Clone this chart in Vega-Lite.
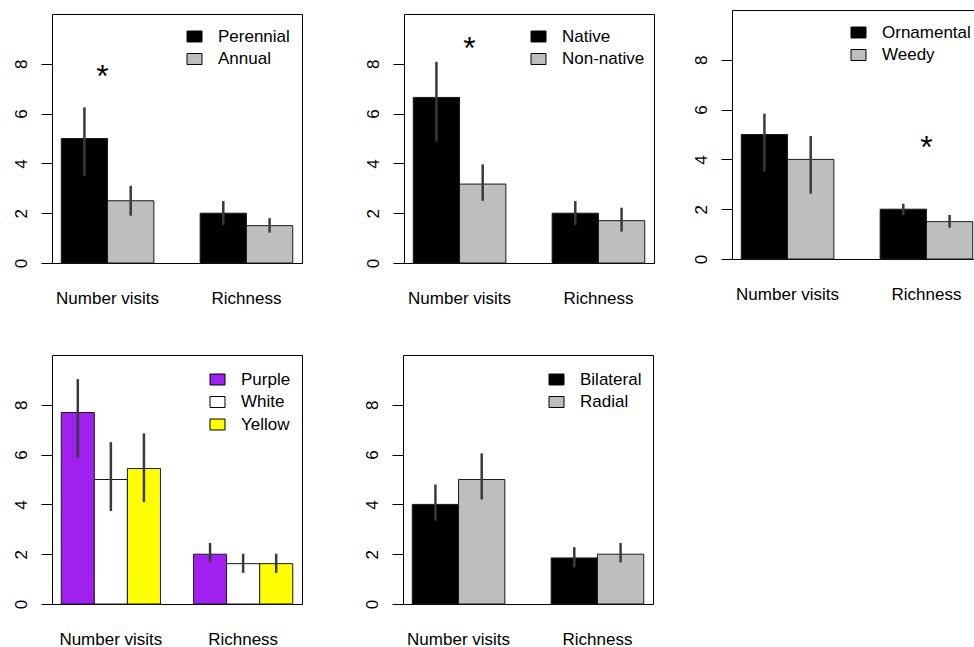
{
  "$schema": "https://vega.github.io/schema/vega-lite/v6.json",
  "background": "white",
  "padding": {"left": 0, "top": 9, "right": 0, "bottom": 0},
  "config": {
    "font": "Liberation Sans",
    "view": {"stroke": "#000", "strokeWidth": 1},
    "axis": {"labelFont": "Liberation Sans", "labelFontSize": 17, "labelColor": "#000", "grid": false, "domain": false},
    "legend": {"orient": "none", "padding": 0, "symbolType": "M-1,-0.73H1V0.73H-1Z", "symbolSize": 225, "symbolStrokeColor": "#000", "symbolStrokeWidth": 1, "symbolOpacity": 1, "labelFont": "Liberation Sans", "labelFontSize": 17, "labelColor": "#000", "labelOffset": 15, "rowPadding": 4.5}
  },
  "datasets": {
    "bars": [
      {"panel": "P1", "group": "Number visits", "cat": "Perennial", "mean": 5.0, "lo": 3.5, "hi": 6.25},
      {"panel": "P1", "group": "Number visits", "cat": "Annual", "mean": 2.5, "lo": 1.9, "hi": 3.1},
      {"panel": "P1", "group": "Richness", "cat": "Perennial", "mean": 2.0, "lo": 1.53, "hi": 2.49},
      {"panel": "P1", "group": "Richness", "cat": "Annual", "mean": 1.5, "lo": 1.22, "hi": 1.8},
      {"panel": "P2", "group": "Number visits", "cat": "Native", "mean": 6.65, "lo": 4.87, "hi": 8.08},
      {"panel": "P2", "group": "Number visits", "cat": "Non-native", "mean": 3.17, "lo": 2.5, "hi": 3.96},
      {"panel": "P2", "group": "Richness", "cat": "Native", "mean": 2.0, "lo": 1.53, "hi": 2.49},
      {"panel": "P2", "group": "Richness", "cat": "Non-native", "mean": 1.7, "lo": 1.26, "hi": 2.22},
      {"panel": "P3", "group": "Number visits", "cat": "Ornamental", "mean": 5.0, "lo": 3.51, "hi": 5.84},
      {"panel": "P3", "group": "Number visits", "cat": "Weedy", "mean": 4.0, "lo": 2.62, "hi": 4.94},
      {"panel": "P3", "group": "Richness", "cat": "Ornamental", "mean": 2.0, "lo": 1.75, "hi": 2.22},
      {"panel": "P3", "group": "Richness", "cat": "Weedy", "mean": 1.5, "lo": 1.26, "hi": 1.77},
      {"panel": "P4", "group": "Number visits", "cat": "Purple", "mean": 7.69, "lo": 5.88, "hi": 9.03},
      {"panel": "P4", "group": "Number visits", "cat": "White", "mean": 5.0, "lo": 3.73, "hi": 6.5},
      {"panel": "P4", "group": "Number visits", "cat": "Yellow", "mean": 5.44, "lo": 4.09, "hi": 6.85},
      {"panel": "P4", "group": "Richness", "cat": "Purple", "mean": 2.0, "lo": 1.67, "hi": 2.45},
      {"panel": "P4", "group": "Richness", "cat": "White", "mean": 1.62, "lo": 1.25, "hi": 2.02},
      {"panel": "P4", "group": "Richness", "cat": "Yellow", "mean": 1.62, "lo": 1.25, "hi": 2.02},
      {"panel": "P5", "group": "Number visits", "cat": "Bilateral", "mean": 4.0, "lo": 3.35, "hi": 4.8},
      {"panel": "P5", "group": "Number visits", "cat": "Radial", "mean": 5.0, "lo": 4.2, "hi": 6.05},
      {"panel": "P5", "group": "Richness", "cat": "Bilateral", "mean": 1.85, "lo": 1.47, "hi": 2.28},
      {"panel": "P5", "group": "Richness", "cat": "Radial", "mean": 2.0, "lo": 1.67, "hi": 2.45}
    ],
    "stars": [
      {"panel": "P1", "group": "Number visits", "y": 7.63},
      {"panel": "P2", "group": "Number visits", "y": 8.76},
      {"panel": "P3", "group": "Richness", "y": 4.62}
    ]
  },
  "spacing": 25,
  "align": "none",
  "resolve": {"scale": {"x": "independent", "y": "independent", "xOffset": "independent", "fill": "independent"}, "legend": {"fill": "independent"}},
  "hconcat": [
    {
      "spacing": 47,
      "resolve": {"scale": {"x": "independent", "y": "independent", "xOffset": "independent", "fill": "independent"}, "legend": {"fill": "independent"}},
      "vconcat": [
        {
          "spacing": 2,
          "resolve": {"scale": {"x": "independent", "y": "independent", "xOffset": "independent", "fill": "independent"}, "legend": {"fill": "independent"}},
          "vconcat": [
            {
              "width": 10, "height": 1,
              "view": {"stroke": null},
              "data": {"values": []},
              "mark": {"type": "point", "opacity": 0}
            },
            {
              "spacing": 49,
              "resolve": {"scale": {"x": "independent", "y": "independent", "xOffset": "independent", "fill": "independent"}, "legend": {"fill": "independent"}},
              "hconcat": [
                {
                  "width": 250, "height": 249,
                  "layer": [
                    {
                      "data": {"name": "bars"}, "transform": [{"filter": "datum.panel == 'P1'"}],
                      "mark": {"type": "bar", "stroke": "#1a1a1a", "strokeWidth": 1},
                      "encoding": {
                        "x": {"field": "group", "type": "nominal", "sort": ["Number visits", "Richness"], "scale": {"paddingInner": 0.3333, "paddingOuter": 0.0667}, "axis": {"title": null, "labelAngle": 0, "ticks": false, "tickSize": 0, "labelPadding": 40, "labelBaseline": "alphabetic", "minExtent": 40, "maxExtent": 40}},
                        "xOffset": {"field": "cat", "type": "nominal", "sort": ["Perennial", "Annual"], "scale": {"paddingInner": 0, "paddingOuter": 0}},
                        "y": {"field": "mean", "type": "quantitative", "stack": null, "scale": {"domain": [0, 10], "nice": false}, "axis": {"title": null, "values": [0, 2, 4, 6, 8], "tickSize": 11, "tickColor": "#000", "labelAngle": 270, "labelAlign": "center", "labelBaseline": "alphabetic", "labelPadding": 15, "labelFlush": false, "minExtent": 51, "maxExtent": 51}},
                        "fill": {"field": "cat", "type": "nominal", "sort": ["Perennial", "Annual"], "scale": {"domain": ["Perennial", "Annual"], "range": ["#000000", "#bebebe"]}, "legend": {"title": null, "legendX": 134, "legendY": 14}}
                      }
                    },
                    {
                      "data": {"name": "bars"}, "transform": [{"filter": "datum.panel == 'P1'"}],
                      "mark": {"type": "rule", "color": "#3a3a3a", "strokeWidth": 2.5},
                      "encoding": {
                        "x": {"field": "group", "type": "nominal", "sort": ["Number visits", "Richness"]},
                        "xOffset": {"field": "cat", "type": "nominal", "sort": ["Perennial", "Annual"]},
                        "y": {"field": "lo", "type": "quantitative"},
                        "y2": {"field": "hi"}
                      }
                    },
                    {
                      "data": {"name": "stars"}, "transform": [{"filter": "datum.panel == 'P1'"}],
                      "mark": {"type": "text", "text": "*", "fontSize": 32, "baseline": "middle", "dy": 4, "dx": -5, "color": "#000"},
                      "encoding": {
                        "x": {"field": "group", "type": "nominal", "sort": ["Number visits", "Richness"]},
                        "y": {"field": "y", "type": "quantitative"}
                      }
                    }
                  ]
                },
                {
                  "width": 250, "height": 249,
                  "layer": [
                    {
                      "data": {"name": "bars"}, "transform": [{"filter": "datum.panel == 'P2'"}],
                      "mark": {"type": "bar", "stroke": "#1a1a1a", "strokeWidth": 1},
                      "encoding": {
                        "x": {"field": "group", "type": "nominal", "sort": ["Number visits", "Richness"], "scale": {"paddingInner": 0.3333, "paddingOuter": 0.0667}, "axis": {"title": null, "labelAngle": 0, "ticks": false, "tickSize": 0, "labelPadding": 40, "labelBaseline": "alphabetic", "minExtent": 40, "maxExtent": 40}},
                        "xOffset": {"field": "cat", "type": "nominal", "sort": ["Native", "Non-native"], "scale": {"paddingInner": 0, "paddingOuter": 0}},
                        "y": {"field": "mean", "type": "quantitative", "stack": null, "scale": {"domain": [0, 10], "nice": false}, "axis": {"title": null, "values": [0, 2, 4, 6, 8], "tickSize": 11, "tickColor": "#000", "labelAngle": 270, "labelAlign": "center", "labelBaseline": "alphabetic", "labelPadding": 15, "labelFlush": false, "minExtent": 51, "maxExtent": 51}},
                        "fill": {"field": "cat", "type": "nominal", "sort": ["Native", "Non-native"], "scale": {"domain": ["Native", "Non-native"], "range": ["#000000", "#bebebe"]}, "legend": {"title": null, "legendX": 126, "legendY": 14}}
                      }
                    },
                    {
                      "data": {"name": "bars"}, "transform": [{"filter": "datum.panel == 'P2'"}],
                      "mark": {"type": "rule", "color": "#3a3a3a", "strokeWidth": 2.5},
                      "encoding": {
                        "x": {"field": "group", "type": "nominal", "sort": ["Number visits", "Richness"]},
                        "xOffset": {"field": "cat", "type": "nominal", "sort": ["Native", "Non-native"]},
                        "y": {"field": "lo", "type": "quantitative"},
                        "y2": {"field": "hi"}
                      }
                    },
                    {
                      "data": {"name": "stars"}, "transform": [{"filter": "datum.panel == 'P2'"}],
                      "mark": {"type": "text", "text": "*", "fontSize": 32, "baseline": "middle", "dy": 4, "dx": 10, "color": "#000"},
                      "encoding": {
                        "x": {"field": "group", "type": "nominal", "sort": ["Number visits", "Richness"]},
                        "y": {"field": "y", "type": "quantitative"}
                      }
                    }
                  ]
                }
              ]
            }
          ]
        },
        {
          "spacing": 48,
          "resolve": {"scale": {"x": "independent", "y": "independent", "xOffset": "independent", "fill": "independent"}, "legend": {"fill": "independent"}},
          "hconcat": [
            {
              "width": 250, "height": 249,
              "layer": [
                {
                  "data": {"name": "bars"}, "transform": [{"filter": "datum.panel == 'P4'"}],
                  "mark": {"type": "bar", "stroke": "#1a1a1a", "strokeWidth": 1},
                  "encoding": {
                    "x": {"field": "group", "type": "nominal", "sort": ["Number visits", "Richness"], "scale": {"paddingInner": 0.25, "paddingOuter": 0.07}, "axis": {"title": null, "labelAngle": 0, "ticks": false, "tickSize": 0, "labelPadding": 40, "labelBaseline": "alphabetic", "minExtent": 40, "maxExtent": 40}},
                    "xOffset": {"field": "cat", "type": "nominal", "sort": ["Purple", "White", "Yellow"], "scale": {"paddingInner": 0, "paddingOuter": 0}},
                    "y": {"field": "mean", "type": "quantitative", "stack": null, "scale": {"domain": [0, 10], "nice": false}, "axis": {"title": null, "values": [0, 2, 4, 6, 8], "tickSize": 11, "tickColor": "#000", "labelAngle": 270, "labelAlign": "center", "labelBaseline": "alphabetic", "labelPadding": 15, "labelFlush": false, "minExtent": 51, "maxExtent": 51}},
                    "fill": {"field": "cat", "type": "nominal", "sort": ["Purple", "White", "Yellow"], "scale": {"domain": ["Purple", "White", "Yellow"], "range": ["#a020f0", "#ffffff", "#ffff00"]}, "legend": {"title": null, "legendX": 157, "legendY": 16}}
                  }
                },
                {
                  "data": {"name": "bars"}, "transform": [{"filter": "datum.panel == 'P4'"}],
                  "mark": {"type": "rule", "color": "#3a3a3a", "strokeWidth": 2.5},
                  "encoding": {
                    "x": {"field": "group", "type": "nominal", "sort": ["Number visits", "Richness"]},
                    "xOffset": {"field": "cat", "type": "nominal", "sort": ["Purple", "White", "Yellow"]},
                    "y": {"field": "lo", "type": "quantitative"},
                    "y2": {"field": "hi"}
                  }
                }
              ]
            },
            {
              "width": 250, "height": 249,
              "layer": [
                {
                  "data": {"name": "bars"}, "transform": [{"filter": "datum.panel == 'P5'"}],
                  "mark": {"type": "bar", "stroke": "#1a1a1a", "strokeWidth": 1},
                  "encoding": {
                    "x": {"field": "group", "type": "nominal", "sort": ["Number visits", "Richness"], "scale": {"paddingInner": 0.3333, "paddingOuter": 0.0667}, "axis": {"title": null, "labelAngle": 0, "ticks": false, "tickSize": 0, "labelPadding": 40, "labelBaseline": "alphabetic", "minExtent": 40, "maxExtent": 40}},
                    "xOffset": {"field": "cat", "type": "nominal", "sort": ["Bilateral", "Radial"], "scale": {"paddingInner": 0, "paddingOuter": 0}},
                    "y": {"field": "mean", "type": "quantitative", "stack": null, "scale": {"domain": [0, 10], "nice": false}, "axis": {"title": null, "values": [0, 2, 4, 6, 8], "tickSize": 11, "tickColor": "#000", "labelAngle": 270, "labelAlign": "center", "labelBaseline": "alphabetic", "labelPadding": 15, "labelFlush": false, "minExtent": 51, "maxExtent": 51}},
                    "fill": {"field": "cat", "type": "nominal", "sort": ["Bilateral", "Radial"], "scale": {"domain": ["Bilateral", "Radial"], "range": ["#000000", "#bebebe"]}, "legend": {"title": null, "legendX": 145, "legendY": 16}}
                  }
                },
                {
                  "data": {"name": "bars"}, "transform": [{"filter": "datum.panel == 'P5'"}],
                  "mark": {"type": "rule", "color": "#3a3a3a", "strokeWidth": 2.5},
                  "encoding": {
                    "x": {"field": "group", "type": "nominal", "sort": ["Number visits", "Richness"]},
                    "xOffset": {"field": "cat", "type": "nominal", "sort": ["Bilateral", "Radial"]},
                    "y": {"field": "lo", "type": "quantitative"},
                    "y2": {"field": "hi"}
                  }
                }
              ]
            }
          ]
        }
      ]
    },
    {
      "width": 250, "height": 249,
      "layer": [
        {
          "data": {"name": "bars"}, "transform": [{"filter": "datum.panel == 'P3'"}],
          "mark": {"type": "bar", "stroke": "#1a1a1a", "strokeWidth": 1},
          "encoding": {
            "x": {"field": "group", "type": "nominal", "sort": ["Number visits", "Richness"], "scale": {"paddingInner": 0.3333, "paddingOuter": 0.0667}, "axis": {"title": null, "labelAngle": 0, "ticks": false, "tickSize": 0, "labelPadding": 40, "labelBaseline": "alphabetic", "minExtent": 40, "maxExtent": 40}},
            "xOffset": {"field": "cat", "type": "nominal", "sort": ["Ornamental", "Weedy"], "scale": {"paddingInner": 0, "paddingOuter": 0}},
            "y": {"field": "mean", "type": "quantitative", "stack": null, "scale": {"domain": [0, 10], "nice": false}, "axis": {"title": null, "values": [0, 2, 4, 6, 8], "tickSize": 11, "tickColor": "#000", "labelAngle": 270, "labelAlign": "center", "labelBaseline": "alphabetic", "labelPadding": 15, "labelFlush": false, "minExtent": 51, "maxExtent": 51}},
            "fill": {"field": "cat", "type": "nominal", "sort": ["Ornamental", "Weedy"], "scale": {"domain": ["Ornamental", "Weedy"], "range": ["#000000", "#bebebe"]}, "legend": {"title": null, "legendX": 118, "legendY": 14}}
          }
        },
        {
          "data": {"name": "bars"}, "transform": [{"filter": "datum.panel == 'P3'"}],
          "mark": {"type": "rule", "color": "#3a3a3a", "strokeWidth": 2.5},
          "encoding": {
            "x": {"field": "group", "type": "nominal", "sort": ["Number visits", "Richness"]},
            "xOffset": {"field": "cat", "type": "nominal", "sort": ["Ornamental", "Weedy"]},
            "y": {"field": "lo", "type": "quantitative"},
            "y2": {"field": "hi"}
          }
        },
        {
          "data": {"name": "stars"}, "transform": [{"filter": "datum.panel == 'P3'"}],
          "mark": {"type": "text", "text": "*", "fontSize": 32, "baseline": "middle", "dy": 4, "dx": 0, "color": "#000"},
          "encoding": {
            "x": {"field": "group", "type": "nominal", "sort": ["Number visits", "Richness"]},
            "y": {"field": "y", "type": "quantitative"}
          }
        }
      ]
    }
  ]
}
